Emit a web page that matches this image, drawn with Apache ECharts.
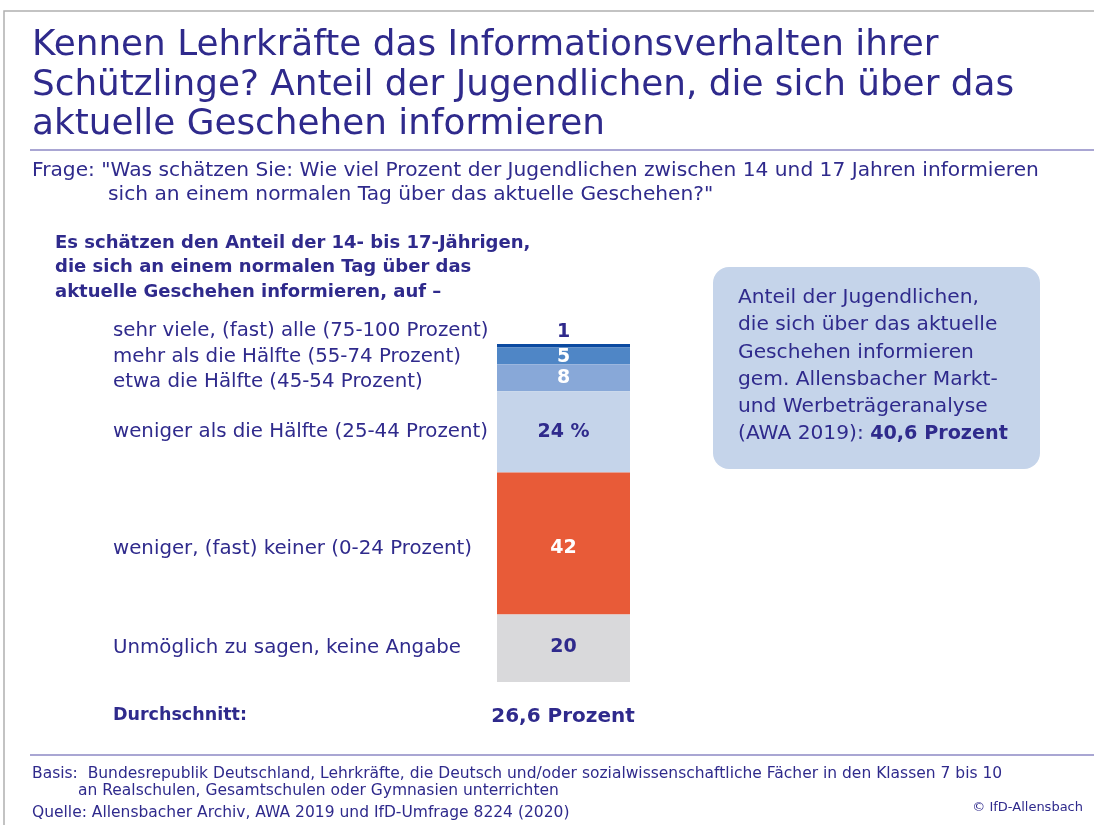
<!DOCTYPE html>
<html>
<head>
<meta charset="utf-8">
<style>
  html, body { margin: 0; padding: 0; background: #ffffff; }
  #chart { width: 1094px; height: 825px; }
</style>
<script src="https://cdn.jsdelivr.net/npm/echarts@6/dist/echarts.min.js"></script>
</head>
<body>
<div id="chart"></div>
<script>
// Survey answers, top of the bar to the bottom
const categories = [
  'sehr viele, (fast) alle (75-100 Prozent)',
  'mehr als die Hälfte (55-74 Prozent)',
  'etwa die Hälfte (45-54 Prozent)',
  'weniger als die Hälfte (25-44 Prozent)',
  'weniger, (fast) keiner (0-24 Prozent)',
  'Unmöglich zu sagen, keine Angabe'
];
const shares = [1, 5, 8, 24, 42, 20];
const valueLabels = ['1', '5', '8', '24 %', '42', '20'];
const averageText = '26,6 Prozent';
const awaText = '40,6 Prozent';

const INK = '#2f2a8c';
const FONT = '"DejaVu Sans", sans-serif';
const segColors = ['#0b4aa0', '#4f86c6', '#88a8d8', '#c5d4ea', '#e85b38', '#d9d9db'];
const valueColors = [INK, '#ffffff', '#ffffff', INK, '#ffffff', INK];
const catOffsetY = [-15, 1, 4, 0, 5, 0];
const valOffsetY = [0, 1, 0, 0, 5, -1];

const series = [];
// visible segments with their value labels
shares.forEach((v, i) => {
  series.push({
    type: 'bar', stack: 'v', barWidth: '100%', name: categories[i],
    data: [v],
    itemStyle: { color: segColors[i] },
    silent: true,
    label: {
      show: true,
      position: i === 0 ? 'top' : 'inside',
      distance: 2,
      offset: [0, valOffsetY[i]],
      formatter: () => valueLabels[i],
      color: valueColors[i],
      fontFamily: FONT, fontWeight: 'bold', fontSize: 19
    }
  });
});
// transparent twin stack carrying the answer texts at the left
shares.forEach((v, i) => {
  series.push({
    type: 'bar', stack: 'c', barWidth: '100%', barGap: '-100%',
    data: [v],
    itemStyle: { color: 'rgba(0,0,0,0)' },
    silent: true,
    label: {
      show: true,
      position: [-384, '50%'],
      align: 'left', verticalAlign: 'middle',
      offset: [0, catOffsetY[i]],
      formatter: () => categories[i],
      color: INK, fontFamily: FONT, fontSize: 19.8
    }
  });
});

const txt = (x, y, text, size, extra) => ({
  type: 'text', left: x, top: y,
  style: Object.assign({ text: text, fill: INK, fontSize: size, fontFamily: FONT }, extra || {})
});

const chart = echarts.init(document.getElementById('chart'), null, { renderer: 'canvas' });
chart.setOption({
  animation: false,
  grid: { left: 497, top: 344, width: 133, height: 338 },
  xAxis: { type: 'category', data: [''], show: false },
  yAxis: { type: 'value', min: 0, max: 100, inverse: true, show: false },
  series: series,
  graphic: [
    // frame
    { type: 'polyline', shape: { points: [[4, 825], [4, 11], [1094, 11]] },
      style: { stroke: '#b0b0b0', lineWidth: 1.5, fill: null } },
    // title
    txt(32, 26, 'Kennen Lehrkräfte das Informationsverhalten ihrer\nSchützlinge? Anteil der Jugendlichen, die sich über das\naktuelle Geschehen informieren', 35.8, { lineHeight: 39.5 }),
    { type: 'line', shape: { x1: 30, y1: 150, x2: 1094, y2: 150 }, style: { stroke: '#8d89c4', lineWidth: 1.5 } },
    // question
    txt(32, 161, 'Frage: "Was schätzen Sie: Wie viel Prozent der Jugendlichen zwischen 14 und 17 Jahren informieren', 20.2),
    txt(108, 185, 'sich an einem normalen Tag über das aktuelle Geschehen?"', 20.2),
    // bold heading
    txt(55, 231, 'Es schätzen den Anteil der 14- bis 17-Jährigen,\ndie sich an einem normalen Tag über das\naktuelle Geschehen informieren, auf –', 18, { fontWeight: 'bold', lineHeight: 24.5 }),
    // average
    txt(113, 706, 'Durchschnitt:', 17.5, { fontWeight: 'bold' }),
    { type: 'text', x: 563, y: 717, style: { text: averageText, fill: INK, fontSize: 20, fontWeight: 'bold', fontFamily: FONT, align: 'center', verticalAlign: 'middle' } },
    // AWA box
    { type: 'rect', shape: { x: 713, y: 267, width: 327, height: 202, r: 16 }, style: { fill: '#c5d4ea' } },
    { type: 'text', left: 738, top: 288, style: {
        rich: {
          n: { fill: INK, fontSize: 20.2, fontFamily: FONT, lineHeight: 27.2 },
          b: { fill: INK, fontSize: 19.2, fontWeight: 'bold', fontFamily: FONT, lineHeight: 27.2 }
        },
        text: '{n|Anteil der Jugendlichen,}\n{n|die sich über das aktuelle}\n{n|Geschehen informieren}\n{n|gem. Allensbacher Markt-}\n{n|und Werbeträgeranalyse}\n{n|(AWA 2019): }{b|' + awaText + '}'
      } },
    // footer
    { type: 'line', shape: { x1: 30, y1: 755, x2: 1094, y2: 755 }, style: { stroke: '#8d89c4', lineWidth: 1.5 } },
    txt(32, 766, 'Basis:  Bundesrepublik Deutschland, Lehrkräfte, die Deutsch und/oder sozialwissenschaftliche Fächer in den Klassen 7 bis 10', 15.5),
    txt(78, 783, 'an Realschulen, Gesamtschulen oder Gymnasien unterrichten', 15.5),
    txt(32, 805, 'Quelle: Allensbacher Archiv, AWA 2019 und IfD-Umfrage 8224 (2020)', 15.5),
    { type: 'text', right: 11, top: 801, style: { text: '© IfD-Allensbach', fill: INK, fontSize: 13, fontFamily: FONT } }
  ]
});
</script>
</body>
</html>
